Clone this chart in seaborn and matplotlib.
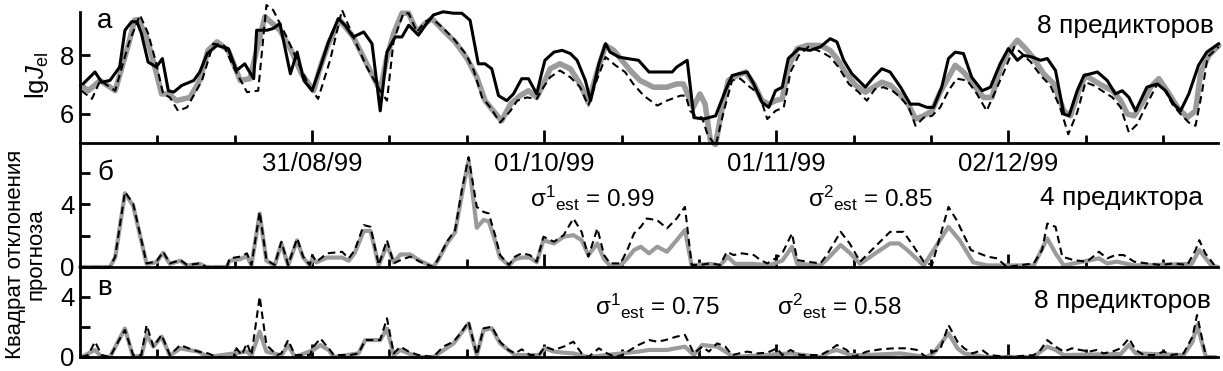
import matplotlib
matplotlib.use("Agg")
import numpy as np
import pandas as pd
import seaborn as sns
import matplotlib.pyplot as plt
from matplotlib.ticker import FixedLocator

# ---------------- data (day 0 = 31/07/99) ----------------
# panel a: lg J_el
obs_day = [0.4,2.0,2.9,4.0,5.3,6.0,6.9,7.6,8.2,9.1,10.2,11.0,11.8,12.5,13.6,15.2,16.0,17.0,18.3,19.8,20.9,22.0,23.2,23.6,25.0,25.8,26.7,28.1,29.0,29.9,31.0,32.1,33.2,34.5,35.4,36.5,37.9,39.0,40.1,41.0,42.1,43.0,43.9,45.2,46.3,47.2,48.5,49.9,51.0,52.1,53.2,54.1,55.0,55.9,57.0,57.9,59.0,59.9,61.0,61.7,62.1,63.3,64.4,65.5,66.4,67.5,68.2,69.3,70.2,70.8,72.0,73.1,74.6,76.0,77.5,79.1,79.7,81.1,82.0,83.3,84.9,86.2,87.1,88.0,89.1,90.0,91.1,92.0,92.9,93.8,94.6,96.0,97.5,98.9,100.2,101.1,102.0,103.1,104.9,106.0,107.1,108.2,109.6,110.9,112.0,113.1,114.0,115.1,116.0,116.9,118.0,119.1,120.5,121.6,122.9,124.0,125.2,126.0,127.2,128.3,129.2,130.3,131.4,132.1,133.2,134.1,135.9,137.2,138.3,139.2,140.1,141.0,142.5,143.9,145.0,146.1,147.0,148.1,149.4,150.5,152.1]
obs_val = [7.02,7.43,7.08,7.14,7.6,8.86,9.15,9.15,8.75,7.77,7.6,7.89,6.79,6.74,6.97,7.14,7.43,8.06,8.34,8.23,7.48,7.71,7.2,8.86,8.86,8.92,9.09,7.37,8.11,7.14,6.79,7.6,8.46,9.26,9.03,8.63,8.8,8.4,6.1,8.11,8.63,8.63,9.03,8.69,9.09,9.38,9.49,9.44,9.44,9.2,7.71,7.71,7.54,6.62,6.45,6.68,7.2,7.2,6.68,7.43,7.83,8.11,8.17,8.06,7.83,7.14,6.45,7.71,8.4,8.11,7.94,7.89,7.83,7.43,7.43,7.43,7.6,7.83,5.87,5.82,5.93,6.79,7.31,7.37,7.43,7.02,6.39,6.22,6.79,6.91,7.89,8.23,8.17,8.29,8.57,8.46,7.83,7.37,6.91,7.25,7.54,7.43,6.91,6.33,6.33,6.22,6.22,6.91,7.89,8.11,8.06,7.25,6.79,6.91,7.71,8.23,7.83,8.0,7.94,7.83,7.89,7.48,5.99,5.93,6.79,7.31,7.43,7.14,6.68,6.79,6.56,6.1,6.91,7.02,6.79,6.33,6.1,6.68,7.66,8.11,8.4]

fc1_day = [0.2,1.1,2.7,4.7,5.6,6.5,7.3,7.8,8.9,10.0,10.9,11.8,12.9,14.7,16.0,17.1,18.3,19.8,21.4,22.7,23.6,24.7,26.7,28.1,29.6,31.2,32.1,33.2,34.7,36.5,38.3,39.2,40.1,41.0,41.9,43.0,43.9,45.0,46.1,47.0,48.5,50.1,51.7,53.0,54.1,55.2,56.3,57.5,58.8,59.9,61.0,61.9,62.8,64.1,65.5,66.8,67.9,69.0,70.2,71.3,72.2,73.5,74.8,76.6,78.4,79.7,80.6,81.9,82.8,83.5,84.2,84.9,85.7,86.6,87.8,88.9,90.0,91.1,92.0,92.9,93.8,94.6,95.8,97.1,98.9,100.2,101.1,102.2,103.6,104.9,106.0,107.1,108.3,109.4,110.5,111.6,112.7,113.8,114.9,116.0,116.9,118.0,119.4,120.7,121.8,122.9,124.1,125.2,126.3,127.4,128.7,130.1,131.4,132.3,133.4,134.3,135.4,136.5,137.9,139.0,139.9,140.8,142.1,143.0,144.1,145.2,146.6,147.9,149.0,149.7,150.8,152.1]
fc1_val = [6.97,6.79,7.14,6.79,7.6,8.4,9.21,9.21,8.63,7.6,6.68,6.68,6.45,6.56,7.14,8.17,8.46,8.17,7.14,7.2,8.17,9.32,8.86,8.23,7.37,6.79,7.6,8.4,9.21,8.63,7.71,7.25,6.79,7.94,8.75,9.44,9.44,8.8,9.09,9.26,8.86,8.46,7.89,7.25,6.45,6.1,5.76,6.33,6.62,6.79,6.56,7.02,7.54,7.71,7.54,7.02,6.39,7.37,8.34,8.17,7.89,7.48,7.14,6.91,6.91,7.02,7.02,6.22,6.68,6.33,5.07,4.95,6.1,7.14,7.31,7.43,7.02,6.45,6.33,6.45,6.51,7.6,8.23,8.34,8.34,8.17,7.89,7.43,6.97,6.74,6.91,7.08,6.97,6.68,6.39,5.82,5.93,6.1,6.74,7.25,7.66,7.43,6.97,6.56,6.56,7.54,8.17,8.52,8.23,7.89,7.37,7.02,6.1,5.93,6.79,7.31,7.14,6.97,6.79,6.45,5.99,5.93,6.45,6.91,7.2,6.79,6.22,5.87,6.1,7.43,8.0,8.34]

fc2_day = [0.2,1.6,2.7,4.7,6.5,8.0,9.1,10.2,11.1,12.0,13.1,14.3,16.3,17.8,19.2,20.5,22.3,23.8,24.9,25.8,27.6,29.4,30.7,31.8,33.4,35.0,36.5,38.3,40.1,41.0,41.9,43.2,43.9,45.0,46.1,47.0,48.3,49.9,51.5,52.6,53.7,54.8,56.1,57.5,58.4,59.7,61.0,61.9,62.8,64.1,65.5,66.8,67.9,69.0,70.2,71.5,72.8,73.9,75.3,77.1,78.4,80.2,80.9,81.5,82.2,83.1,83.8,84.9,86.0,87.1,88.2,89.5,90.7,91.8,92.9,94.0,94.9,96.0,97.3,99.1,100.2,101.3,102.7,104.0,105.1,106.2,107.3,108.5,109.6,110.7,111.6,112.7,113.8,114.9,116.0,117.1,118.5,119.8,121.1,122.3,123.4,124.8,125.8,127.0,128.3,129.6,130.9,132.0,133.2,134.3,135.4,136.5,137.9,139.0,140.1,141.2,142.5,143.9,144.8,145.9,147.0,148.1,149.0,149.9,150.6,152.1]
fc2_val = [6.79,6.51,7.14,6.79,8.4,9.38,8.75,7.71,6.68,6.56,6.1,6.22,7.14,8.4,8.34,7.6,6.74,6.79,9.72,9.55,8.63,7.6,6.91,6.51,7.83,9.55,8.63,7.6,6.79,6.45,8.52,9.44,9.44,8.8,9.15,9.26,8.98,8.57,8.06,7.48,6.56,6.22,5.7,6.1,6.45,6.56,6.51,6.91,7.25,7.48,7.25,6.91,6.28,7.14,7.94,7.66,7.43,7.02,6.62,6.28,6.45,6.62,6.62,6.1,5.93,5.87,5.3,4.9,6.1,7.14,7.2,6.91,6.68,5.82,6.1,6.22,7.43,8.0,8.29,8.11,7.94,7.6,7.02,6.74,6.45,6.85,6.91,6.79,6.56,6.22,5.59,5.87,5.93,6.22,6.79,7.2,7.14,6.68,6.1,6.79,7.43,8.29,8.06,7.77,7.31,6.97,6.22,5.3,6.05,7.08,6.97,6.79,6.56,6.22,5.36,5.64,6.33,7.02,6.85,6.33,5.99,5.7,5.59,6.79,7.94,8.29]

# panel b: squared forecast error, 4 predictors
b1_day = [0,4.0,4.7,6.0,7.1,8.9,10.2,11.1,12.0,13.4,14.3,16.0,16.9,19.6,20.0,21.4,22.3,22.9,24.0,24.9,26.0,26.9,27.8,29.0,29.8,30.7,31.0,31.6,33.0,35.0,35.9,36.7,37.9,38.8,39.9,41.0,41.9,42.8,44.1,45.4,47.2,47.9,49.0,50.1,51.0,51.9,53.0,53.9,54.6,55.5,56.1,57.3,58.1,59.0,60.1,61.0,61.9,63.3,64.6,65.9,67.0,67.9,69.1,70.0,70.8,72.2,73.1,74.0,74.9,76.0,77.1,78.4,79.7,80.8,81.7,84.2,85.5,86.5,87.5,90.0,92.0,93.8,95.1,95.8,98.9,99.8,101.6,102.8,104.2,106.0,108.2,109.4,110.5,112.7,116.0,117.5,119.3,121.2,127.4,129.2,130.3,131.4,136.1,137.2,138.5,140.8,148.5,149.5,151.1,152.0]
b1_val = [0,0,0.6,4.7,3.9,0.2,0.3,0.9,0.2,0.4,0.1,0.2,0,0,0.4,0.5,0.7,0.1,3.4,0.4,0.1,1.5,0.1,1.7,0.6,0.1,0.5,0.3,0.6,0.6,0.4,0.9,2.3,2.3,0.1,1.4,0.3,0.8,0.8,0.4,0,0.5,1.5,2.2,4.6,6.8,2.5,3.0,2.9,1.6,0.6,0.1,0.5,0.6,0.6,0.3,1.71,1.5,1.93,2.03,1.71,0.76,1.5,0.5,0.1,0.1,0.55,1.08,1.29,0.87,1.29,0.97,1.71,2.35,0.1,0.2,0.1,0.66,0.2,0.2,0.1,0.4,1.29,0.2,0.1,0.5,1.4,0.9,0.2,0.8,1.5,1.5,1.08,0.1,2.56,1.7,0.3,0.1,0.1,1.82,0.87,0.1,0.55,0.23,0.34,0.1,0.2,1.08,0.1,0]

b2_day = [0,4.0,4.7,6.0,7.1,8.9,10.2,11.1,12.0,13.4,14.3,16.0,16.9,19.6,20.0,21.4,22.3,22.9,24.0,24.9,26.0,26.9,27.8,29.0,29.8,30.7,31.0,31.6,33.0,35.0,35.9,36.7,37.9,38.8,39.9,41.0,41.9,42.8,44.1,45.4,47.2,47.9,49.0,50.1,51.0,51.9,53.0,53.9,54.6,55.5,56.1,57.3,58.1,59.0,60.1,61.0,61.9,63.3,64.6,65.9,67.0,67.9,69.1,70.0,70.8,72.2,73.1,74.0,74.9,75.7,77.1,78.4,79.7,80.8,81.7,82.8,84.2,85.5,86.4,87.3,88.4,90.0,90.9,91.8,92.9,93.8,95.1,95.8,97.1,98.9,99.8,101.6,102.8,104.2,106.0,108.2,110.0,111.5,112.7,113.8,116.0,117.1,119.0,121.2,122.5,123.8,127.4,128.5,129.2,130.3,131.2,132.7,134.5,136.1,137.2,138.3,139.4,140.8,142.5,144.3,146.1,147.9,149.0,149.5,150.3,151.5]
b2_val = [0,0,0.66,4.78,4.04,0.23,0.34,0.97,0.23,0.44,0.13,0.23,0,0,0.55,0.66,0.87,0.13,3.51,0.44,0.13,1.61,0.13,1.82,0.66,0.13,0.76,0.34,0.87,0.97,0.55,1.08,2.67,2.56,0.13,1.71,0.23,0.44,0.66,0.34,0,0.55,1.61,2.35,4.89,7.0,3.83,3.51,3.41,1.93,0.76,0.13,0.66,0.87,0.76,0.34,1.93,1.61,2.03,3.09,2.24,0.66,2.46,0.76,0.23,0.23,1.08,2.14,2.56,3.09,2.98,2.46,3.09,3.83,0.13,0.13,0.23,0.13,0.97,0.76,0.87,0.76,0.44,0.23,0.55,0.87,2.14,0.44,0.34,0.23,0.8,2.24,1.5,0.34,1.2,2.24,2.24,1.2,0.34,0.13,3.83,2.98,1.08,0.66,0.55,0,0.23,1.08,2.77,2.56,0.66,0.44,0.34,0.97,0.55,0.76,0.76,0.34,0.23,0.13,0.23,0.13,1.08,1.71,0.87,0.13]

# panel v: squared forecast error, 8 predictors
c1_day = [0.2,2.0,2.9,4.0,6.0,7.1,8.2,8.9,9.8,10.9,12.0,13.4,14.5,15.8,17.1,22.3,22.9,24.0,24.9,26.9,27.8,28.7,31.2,32.1,33.2,33.9,37.2,38.1,40.1,41.0,41.9,42.8,43.9,45.2,47.2,49.9,51.9,53.0,53.9,55.0,56.1,58.1,61.3,62.1,63.3,64.6,65.9,67.9,74.6,76.0,78.4,80.8,82.0,83.1,85.1,86.2,87.3,94.9,98.9,100.2,101.1,102.9,105.1,109.6,113.0,114.0,116.0,117.2,118.1,121.0,127.4,128.3,129.2,130.3,131.4,139.0,140.1,141.0,147.4,148.6,149.2,150.4,151.7]
c1_val = [0,0.47,0,0,1.9,0,0.1,1.47,0.69,1.36,0.1,0.58,0.47,0.36,0,0.36,0.1,1.69,0.36,0.1,0.8,0,0.47,0.8,0.47,0,0.24,1.13,1.13,1.9,0.13,0.47,0.24,0,0,0.91,2.24,0.13,1.8,1.91,0.91,0.13,0.13,0.58,0.36,0.29,0.24,0,0.36,0.47,0.47,0.69,0.13,0.8,0.69,0.36,0,0.24,0,0.36,0.47,0.13,0.13,0.24,0,0.24,1.58,0.58,0.24,0,0,0.36,0.69,0.47,0.13,0.2,0.8,0.24,0.13,1.02,2.13,0,0]

c2_day = [0.2,1.1,2.0,2.9,4.0,5.1,6.0,7.1,8.2,8.9,9.8,10.9,12.0,13.4,14.5,15.8,17.1,18.3,20.5,20.9,21.6,22.3,22.9,24.0,24.9,26.3,26.9,27.8,28.7,30.7,31.2,32.1,33.2,33.9,36.1,37.2,38.1,40.1,41.0,41.9,42.8,43.9,45.2,47.2,48.5,49.9,51.0,51.9,53.0,53.9,55.0,56.1,57.2,58.1,59.0,60.1,61.3,62.1,63.3,64.6,65.9,67.0,67.9,69.3,70.4,71.5,72.4,73.5,74.6,76.0,77.1,78.2,79.7,80.8,82.0,83.1,84.0,85.1,86.2,87.1,89.1,90.5,91.8,93.1,93.8,94.9,96.2,98.9,100.2,101.1,102.4,103.3,105.1,106.9,108.7,110.5,111.8,113.0,114.0,114.9,116.0,117.2,118.1,119.2,120.5,121.4,124.0,127.4,128.3,129.2,130.3,131.4,132.5,133.6,134.8,135.8,136.7,137.9,139.0,140.1,141.0,142.1,143.4,144.8,145.7,147.4,148.6,149.2,150.4,151.7]
c2_val = [0,0.13,1.02,0.13,0,1.02,1.8,0.13,0.13,2.13,0.69,1.47,0.13,0.8,0.58,0.36,0.24,0,0,0.58,0.13,0.91,0.13,4.02,0.8,0.13,0.24,1.13,0.13,0.13,0.69,1.24,0.58,0.13,0.13,0.24,1.13,1.13,2.58,0.24,0.69,0.36,0.13,0,0.69,1.02,1.69,2.36,0.13,1.91,2.02,1.02,0.47,0.24,0.51,0.13,0.13,0.69,0.47,0.69,1.02,0.24,0,0.58,0.24,0,0.13,0.47,0.8,1.13,1.02,1.13,1.36,1.47,0.24,0.69,0.36,0.91,0.69,0.13,0.36,0.24,0.29,0.58,0.13,0.47,0.13,0.13,0.47,0.8,0.47,0,0.36,0.51,0.58,0.58,0.47,0,0.36,0.51,2.13,1.02,0.58,0.24,0.47,0.13,0,0.13,0.47,1.13,0.69,0.36,0.58,0.47,0.36,0.47,0.24,0.36,0.58,1.24,0.47,0.13,0.13,0.36,0.13,0.24,1.36,2.8,0,0]

date_days = [31, 62, 93, 124]
date_labels = ["31/08/99", "01/10/99", "01/11/99", "02/12/99"]

# ---------------- style ----------------
sns.set_theme(style="ticks")
plt.rcParams["font.family"] = ["Liberation Sans", "DejaVu Sans"]
plt.rcParams["mathtext.fontset"] = "custom"
plt.rcParams["mathtext.rm"] = "Liberation Sans"
plt.rcParams["mathtext.it"] = "Liberation Sans:italic"
plt.rcParams["mathtext.bf"] = "Liberation Sans:bold"
for k in ("text.color", "axes.labelcolor", "xtick.color", "ytick.color", "axes.edgecolor"):
    plt.rcParams[k] = "black"

GRAY = "#9b9b9b"
FS = 18.5
SPW = 2.0

fig = plt.figure(figsize=(12.23, 3.71), dpi=100)
L, W = 80 / 1223, 1138 / 1223
ax_a = fig.add_axes([L, 1 - 143 / 371, W, (143 - 11.5) / 371])
ax_b = fig.add_axes([L, 1 - 267 / 371, W, (267 - 143) / 371])
ax_c = fig.add_axes([L, 1 - 357 / 371, W, (357 - 267) / 371])

def line(ax, x, y, kind, lw_gray=3.6):
    if kind == "gray":
        kw = dict(color=GRAY, linewidth=lw_gray, zorder=2)
    elif kind == "solid":
        kw = dict(color="black", linewidth=2.2, zorder=4)
    else:
        kw = dict(color="black", linewidth=1.5, linestyle=(0, (3.6, 2.2)), zorder=3)
    sns.lineplot(x=x, y=y, ax=ax, estimator=None, sort=False, clip_on=False, **kw)

line(ax_a, fc1_day, fc1_val, "gray", 4.0)
line(ax_a, obs_day, obs_val, "solid")
line(ax_a, fc2_day, fc2_val, "dash")
line(ax_b, b1_day, b1_val, "gray", 3.0)
line(ax_b, b2_day, b2_val, "dash")
line(ax_c, c1_day, c1_val, "gray", 3.0)
line(ax_c, c2_day, c2_val, "dash")

minor_pos = [k * 31 / 3 for k in range(1, 15) if k % 3 != 0]
for ax in (ax_a, ax_b, ax_c):
    ax.patch.set_visible(False)
    ax.set_xlim(0, 152)
    for s in ("top", "right"):
        ax.spines[s].set_visible(False)
    for s in ("left", "bottom"):
        ax.spines[s].set_linewidth(SPW)
        ax.spines[s].set_color("black")
    ax.xaxis.set_major_locator(FixedLocator(date_days))
    ax.xaxis.set_minor_locator(FixedLocator(minor_pos))
    ax.tick_params(axis="x", which="major", direction="in", length=9.5, width=SPW, pad=6.5, labelsize=FS)
    ax.tick_params(axis="x", which="minor", direction="in", length=5.5, width=SPW)
    ax.tick_params(axis="y", which="major", direction="in", length=7.5, width=SPW, pad=4, labelsize=FS)
    ax.set_xlabel("")
    ax.set_ylabel("")

ax_a.set_xticklabels(date_labels)
ax_b.set_xticklabels([])
ax_c.set_xticklabels([])

ax_a.set_ylim(5, 9.5)
ax_a.set_yticks([6, 8])
ax_a.set_yticklabels(["6", "8"])

ax_b.set_ylim(0, 7.9)
ax_b.set_yticks([0, 2, 4, 6])
ax_b.set_yticklabels(["0", "", "4", ""])

ax_c.set_ylim(0, 6)
ax_c.set_yticks([0, 2, 4])
ax_c.set_yticklabels(["0", "", "4"])

# annotations
SIG = 17.5
ax_a.text(2.2, 9.17, "а", fontsize=20, ha="left", va="center")
ax_a.text(151.4, 9.0, "8 предикторов", fontsize=19, ha="right", va="center")

ax_b.text(2.3, 5.97, "б", fontsize=20, ha="left", va="center")
ax_b.text(60.1, 3.8, r"$\mathrm{\sigma}^{1}{}_{\mathrm{est}}$ = 0.99", fontsize=SIG, ha="left", va="baseline")
ax_b.text(97.3, 3.8, r"$\mathrm{\sigma}^{2}{}_{\mathrm{est}}$ = 0.85", fontsize=SIG, ha="left", va="baseline")
ax_b.text(150.0, 3.94, "4 предиктора", fontsize=19, ha="right", va="baseline")

ax_c.text(2.3, 4.6, "в", fontsize=20, ha="left", va="center")
ax_c.text(68.8, 2.8, r"$\mathrm{\sigma}^{1}{}_{\mathrm{est}}$ = 0.75", fontsize=SIG, ha="left", va="baseline")
ax_c.text(93.1, 2.8, r"$\mathrm{\sigma}^{2}{}_{\mathrm{est}}$ = 0.58", fontsize=SIG, ha="left", va="baseline")
ax_c.text(151.0, 3.27, "8 предикторов", fontsize=19, ha="right", va="baseline")

fig.text(37 / 1223, 1 - 75 / 371, r"lg$J_{\mathrm{el}}$", rotation=90, fontsize=FS, ha="center", va="center")
fig.text(26 / 1223, 1 - 254 / 371, "Квадрат отклонения\nпрогноза", rotation=90, fontsize=16,
         ha="center", va="center", multialignment="center", linespacing=1.0)

fig.savefig("out.png", dpi=100)
